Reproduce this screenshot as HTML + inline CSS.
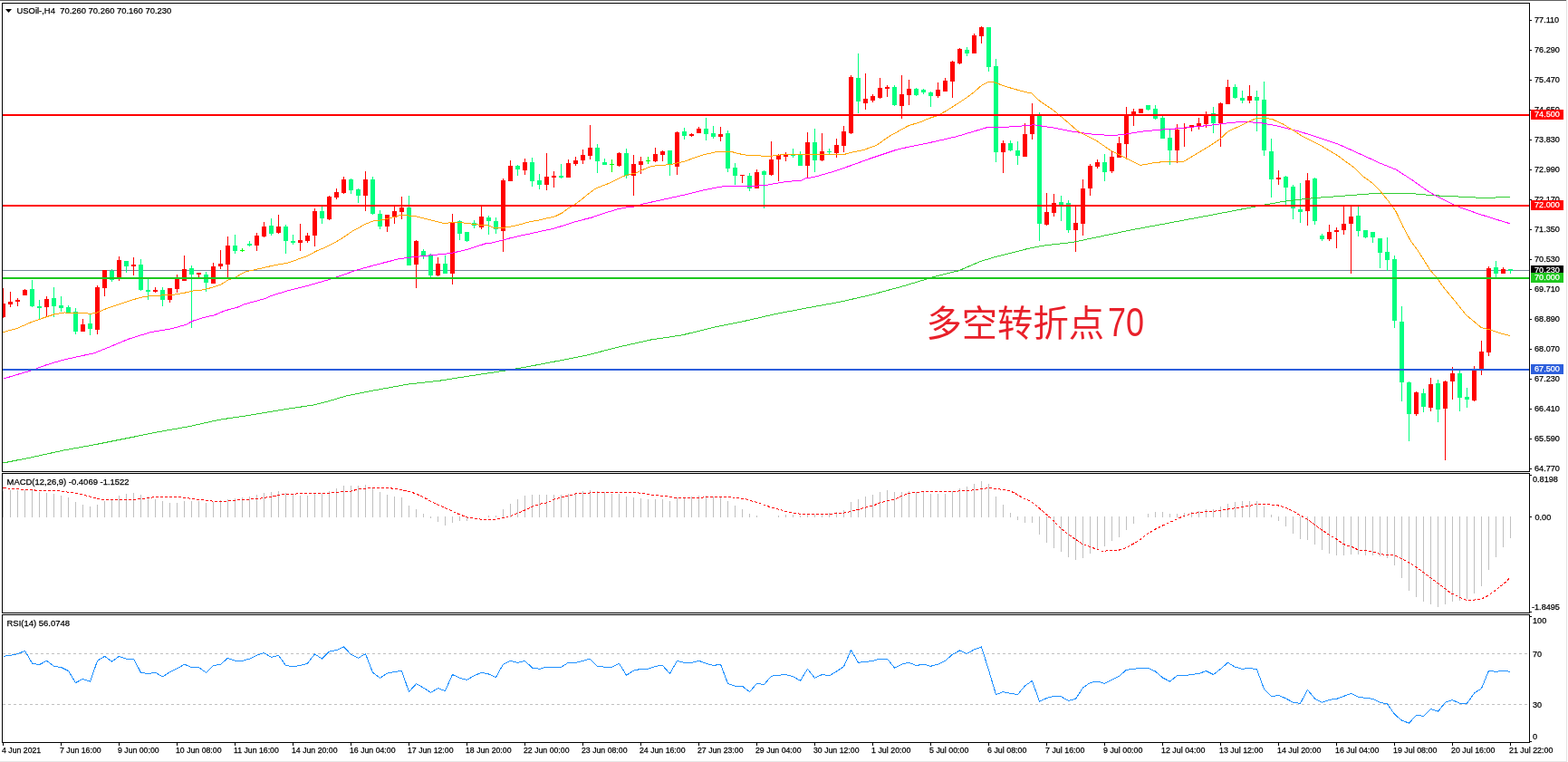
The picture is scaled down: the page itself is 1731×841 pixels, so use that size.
<!DOCTYPE html>
<html><head><meta charset="utf-8"><title>USOil H4</title>
<style>html,body{margin:0;padding:0;background:#fff;} svg{display:block;}
rect{shape-rendering:crispEdges;}</style></head>
<body><svg width="1731" height="841" viewBox="0 0 1731 841">
<rect x="0" y="0" width="1731" height="841" fill="#fff"/>
<rect x="0" y="0" width="1729" height="1" fill="#5f5f5f"/>
<rect x="1729" y="0" width="1" height="841" fill="#e3e3e3"/>
<rect x="0" y="840" width="1729" height="1" fill="#e6e6e6"/>
<defs><clipPath id="cm"><rect x="3" y="4" width="1685" height="516"/></clipPath><clipPath id="cd"><rect x="3" y="523" width="1685" height="153"/></clipPath><clipPath id="cr"><rect x="3" y="679" width="1685" height="140"/></clipPath></defs>
<g clip-path="url(#cm)">
<rect x="3" y="298" width="1685" height="1" fill="#778899"/>
<rect x="3" y="318" width="1" height="33" fill="#ff0000"/>
<rect x="1" y="335" width="5" height="15" fill="#ff0000"/>
<rect x="11" y="322" width="1" height="17" fill="#ff0000"/>
<rect x="9" y="333" width="5" height="3" fill="#ff0000"/>
<rect x="19" y="329" width="1" height="9" fill="#ff0000"/>
<rect x="17" y="331" width="5" height="2" fill="#ff0000"/>
<rect x="27" y="319" width="1" height="7" fill="#ff0000"/>
<rect x="25" y="320" width="5" height="6" fill="#ff0000"/>
<rect x="35" y="309" width="1" height="30" fill="#00ff7f"/>
<rect x="33" y="319" width="5" height="19" fill="#00ff7f"/>
<rect x="43" y="331" width="1" height="21" fill="#00ff7f"/>
<rect x="41" y="338" width="5" height="2" fill="#00ff7f"/>
<rect x="51" y="327" width="1" height="22" fill="#ff0000"/>
<rect x="49" y="330" width="5" height="9" fill="#ff0000"/>
<rect x="59" y="317" width="1" height="33" fill="#00ff7f"/>
<rect x="57" y="329" width="5" height="9" fill="#00ff7f"/>
<rect x="67" y="327" width="1" height="17" fill="#00ff7f"/>
<rect x="65" y="337" width="5" height="3" fill="#00ff7f"/>
<rect x="75" y="337" width="1" height="8" fill="#00ff7f"/>
<rect x="73" y="339" width="5" height="6" fill="#00ff7f"/>
<rect x="83" y="340" width="1" height="29" fill="#00ff7f"/>
<rect x="81" y="344" width="5" height="22" fill="#00ff7f"/>
<rect x="91" y="352" width="1" height="14" fill="#ff0000"/>
<rect x="89" y="358" width="5" height="8" fill="#ff0000"/>
<rect x="99" y="346" width="1" height="24" fill="#00ff7f"/>
<rect x="97" y="357" width="5" height="6" fill="#00ff7f"/>
<rect x="107" y="315" width="1" height="54" fill="#ff0000"/>
<rect x="105" y="317" width="5" height="47" fill="#ff0000"/>
<rect x="115" y="298" width="1" height="29" fill="#ff0000"/>
<rect x="113" y="298" width="5" height="20" fill="#ff0000"/>
<rect x="123" y="297" width="1" height="14" fill="#00ff7f"/>
<rect x="121" y="299" width="5" height="10" fill="#00ff7f"/>
<rect x="131" y="283" width="1" height="27" fill="#ff0000"/>
<rect x="129" y="287" width="5" height="19" fill="#ff0000"/>
<rect x="139" y="288" width="1" height="13" fill="#00ff7f"/>
<rect x="137" y="288" width="5" height="6" fill="#00ff7f"/>
<rect x="147" y="284" width="1" height="20" fill="#ff0000"/>
<rect x="145" y="292" width="5" height="2" fill="#ff0000"/>
<rect x="155" y="286" width="1" height="35" fill="#00ff7f"/>
<rect x="153" y="292" width="5" height="28" fill="#00ff7f"/>
<rect x="163" y="308" width="1" height="23" fill="#00ff7f"/>
<rect x="161" y="320" width="5" height="2" fill="#00ff7f"/>
<rect x="171" y="317" width="1" height="6" fill="#ff0000"/>
<rect x="169" y="320" width="5" height="2" fill="#ff0000"/>
<rect x="179" y="317" width="1" height="21" fill="#00ff7f"/>
<rect x="177" y="320" width="5" height="11" fill="#00ff7f"/>
<rect x="187" y="318" width="1" height="16" fill="#ff0000"/>
<rect x="185" y="318" width="5" height="13" fill="#ff0000"/>
<rect x="195" y="303" width="1" height="20" fill="#ff0000"/>
<rect x="193" y="308" width="5" height="11" fill="#ff0000"/>
<rect x="203" y="282" width="1" height="28" fill="#ff0000"/>
<rect x="201" y="297" width="5" height="13" fill="#ff0000"/>
<rect x="211" y="293" width="1" height="69" fill="#00ff7f"/>
<rect x="209" y="296" width="5" height="7" fill="#00ff7f"/>
<rect x="219" y="301" width="1" height="5" fill="#ff0000"/>
<rect x="217" y="301" width="5" height="2" fill="#ff0000"/>
<rect x="227" y="300" width="1" height="22" fill="#00ff7f"/>
<rect x="225" y="303" width="5" height="9" fill="#00ff7f"/>
<rect x="235" y="290" width="1" height="23" fill="#ff0000"/>
<rect x="233" y="294" width="5" height="19" fill="#ff0000"/>
<rect x="243" y="276" width="1" height="21" fill="#ff0000"/>
<rect x="241" y="291" width="5" height="3" fill="#ff0000"/>
<rect x="251" y="261" width="1" height="45" fill="#ff0000"/>
<rect x="249" y="271" width="5" height="21" fill="#ff0000"/>
<rect x="259" y="259" width="1" height="21" fill="#00ff7f"/>
<rect x="257" y="271" width="5" height="6" fill="#00ff7f"/>
<rect x="267" y="274" width="1" height="4" fill="#00ff00"/>
<rect x="265" y="276" width="5" height="1" fill="#00ff00"/>
<rect x="275" y="266" width="1" height="6" fill="#00ff7f"/>
<rect x="273" y="269" width="5" height="2" fill="#00ff7f"/>
<rect x="283" y="257" width="1" height="20" fill="#ff0000"/>
<rect x="281" y="260" width="5" height="11" fill="#ff0000"/>
<rect x="291" y="245" width="1" height="17" fill="#ff0000"/>
<rect x="289" y="250" width="5" height="11" fill="#ff0000"/>
<rect x="299" y="241" width="1" height="19" fill="#00ff7f"/>
<rect x="297" y="249" width="5" height="9" fill="#00ff7f"/>
<rect x="307" y="237" width="1" height="21" fill="#ff0000"/>
<rect x="305" y="250" width="5" height="7" fill="#ff0000"/>
<rect x="315" y="248" width="1" height="32" fill="#00ff7f"/>
<rect x="313" y="250" width="5" height="16" fill="#00ff7f"/>
<rect x="323" y="259" width="1" height="11" fill="#00ff7f"/>
<rect x="321" y="266" width="5" height="2" fill="#00ff7f"/>
<rect x="331" y="247" width="1" height="30" fill="#ff0000"/>
<rect x="329" y="265" width="5" height="3" fill="#ff0000"/>
<rect x="339" y="257" width="1" height="11" fill="#ff0000"/>
<rect x="337" y="260" width="5" height="6" fill="#ff0000"/>
<rect x="347" y="230" width="1" height="42" fill="#ff0000"/>
<rect x="345" y="233" width="5" height="27" fill="#ff0000"/>
<rect x="355" y="228" width="1" height="19" fill="#00ff7f"/>
<rect x="353" y="233" width="5" height="8" fill="#00ff7f"/>
<rect x="363" y="216" width="1" height="27" fill="#ff0000"/>
<rect x="361" y="217" width="5" height="25" fill="#ff0000"/>
<rect x="371" y="208" width="1" height="12" fill="#ff0000"/>
<rect x="369" y="212" width="5" height="6" fill="#ff0000"/>
<rect x="379" y="195" width="1" height="19" fill="#ff0000"/>
<rect x="377" y="198" width="5" height="15" fill="#ff0000"/>
<rect x="387" y="197" width="1" height="17" fill="#00ff7f"/>
<rect x="385" y="198" width="5" height="12" fill="#00ff7f"/>
<rect x="395" y="208" width="1" height="16" fill="#00ff7f"/>
<rect x="393" y="209" width="5" height="7" fill="#00ff7f"/>
<rect x="403" y="189" width="1" height="44" fill="#ff0000"/>
<rect x="401" y="198" width="5" height="18" fill="#ff0000"/>
<rect x="411" y="195" width="1" height="42" fill="#00ff7f"/>
<rect x="409" y="198" width="5" height="38" fill="#00ff7f"/>
<rect x="419" y="232" width="1" height="21" fill="#00ff7f"/>
<rect x="417" y="236" width="5" height="14" fill="#00ff7f"/>
<rect x="427" y="237" width="1" height="19" fill="#ff0000"/>
<rect x="425" y="237" width="5" height="13" fill="#ff0000"/>
<rect x="435" y="228" width="1" height="19" fill="#ff0000"/>
<rect x="433" y="233" width="5" height="7" fill="#ff0000"/>
<rect x="443" y="217" width="1" height="25" fill="#ff0000"/>
<rect x="441" y="229" width="5" height="5" fill="#ff0000"/>
<rect x="451" y="216" width="1" height="77" fill="#00ff7f"/>
<rect x="449" y="229" width="5" height="64" fill="#00ff7f"/>
<rect x="459" y="265" width="1" height="53" fill="#ff0000"/>
<rect x="457" y="266" width="5" height="26" fill="#ff0000"/>
<rect x="467" y="275" width="1" height="11" fill="#00ff7f"/>
<rect x="465" y="277" width="5" height="6" fill="#00ff7f"/>
<rect x="475" y="280" width="1" height="26" fill="#00ff7f"/>
<rect x="473" y="282" width="5" height="22" fill="#00ff7f"/>
<rect x="483" y="284" width="1" height="21" fill="#ff0000"/>
<rect x="481" y="291" width="5" height="13" fill="#ff0000"/>
<rect x="491" y="282" width="1" height="20" fill="#00ff7f"/>
<rect x="489" y="291" width="5" height="11" fill="#00ff7f"/>
<rect x="499" y="236" width="1" height="78" fill="#ff0000"/>
<rect x="497" y="246" width="5" height="56" fill="#ff0000"/>
<rect x="507" y="243" width="1" height="22" fill="#00ff7f"/>
<rect x="505" y="244" width="5" height="14" fill="#00ff7f"/>
<rect x="515" y="256" width="1" height="11" fill="#00ff7f"/>
<rect x="513" y="256" width="5" height="10" fill="#00ff7f"/>
<rect x="523" y="243" width="1" height="9" fill="#00ff7f"/>
<rect x="521" y="246" width="5" height="3" fill="#00ff7f"/>
<rect x="531" y="228" width="1" height="25" fill="#ff0000"/>
<rect x="529" y="239" width="5" height="12" fill="#ff0000"/>
<rect x="539" y="238" width="1" height="21" fill="#00ff7f"/>
<rect x="537" y="240" width="5" height="4" fill="#00ff7f"/>
<rect x="547" y="240" width="1" height="18" fill="#00ff7f"/>
<rect x="545" y="244" width="5" height="9" fill="#00ff7f"/>
<rect x="555" y="197" width="1" height="81" fill="#ff0000"/>
<rect x="553" y="199" width="5" height="56" fill="#ff0000"/>
<rect x="563" y="177" width="1" height="23" fill="#ff0000"/>
<rect x="561" y="183" width="5" height="17" fill="#ff0000"/>
<rect x="571" y="182" width="1" height="12" fill="#00ff7f"/>
<rect x="569" y="183" width="5" height="4" fill="#00ff7f"/>
<rect x="579" y="175" width="1" height="18" fill="#ff0000"/>
<rect x="577" y="179" width="5" height="9" fill="#ff0000"/>
<rect x="587" y="174" width="1" height="32" fill="#00ff7f"/>
<rect x="585" y="179" width="5" height="21" fill="#00ff7f"/>
<rect x="595" y="192" width="1" height="17" fill="#00ff7f"/>
<rect x="593" y="199" width="5" height="5" fill="#00ff7f"/>
<rect x="603" y="169" width="1" height="41" fill="#ff0000"/>
<rect x="601" y="195" width="5" height="9" fill="#ff0000"/>
<rect x="611" y="189" width="1" height="18" fill="#ff0000"/>
<rect x="609" y="194" width="5" height="2" fill="#ff0000"/>
<rect x="619" y="181" width="1" height="16" fill="#00ff7f"/>
<rect x="617" y="194" width="5" height="2" fill="#00ff7f"/>
<rect x="627" y="176" width="1" height="20" fill="#ff0000"/>
<rect x="625" y="180" width="5" height="16" fill="#ff0000"/>
<rect x="635" y="173" width="1" height="10" fill="#ff0000"/>
<rect x="633" y="177" width="5" height="4" fill="#ff0000"/>
<rect x="643" y="165" width="1" height="16" fill="#ff0000"/>
<rect x="641" y="171" width="5" height="6" fill="#ff0000"/>
<rect x="651" y="138" width="1" height="38" fill="#ff0000"/>
<rect x="649" y="163" width="5" height="9" fill="#ff0000"/>
<rect x="659" y="159" width="1" height="32" fill="#00ff7f"/>
<rect x="657" y="163" width="5" height="15" fill="#00ff7f"/>
<rect x="667" y="175" width="1" height="7" fill="#00ff7f"/>
<rect x="665" y="179" width="5" height="3" fill="#00ff7f"/>
<rect x="675" y="176" width="1" height="14" fill="#00ff00"/>
<rect x="673" y="181" width="5" height="1" fill="#00ff00"/>
<rect x="683" y="168" width="1" height="16" fill="#ff0000"/>
<rect x="681" y="169" width="5" height="14" fill="#ff0000"/>
<rect x="691" y="164" width="1" height="33" fill="#00ff7f"/>
<rect x="689" y="169" width="5" height="25" fill="#00ff7f"/>
<rect x="699" y="171" width="1" height="45" fill="#ff0000"/>
<rect x="697" y="181" width="5" height="13" fill="#ff0000"/>
<rect x="707" y="173" width="1" height="19" fill="#ff0000"/>
<rect x="705" y="178" width="5" height="4" fill="#ff0000"/>
<rect x="715" y="173" width="1" height="8" fill="#00ff00"/>
<rect x="713" y="177" width="5" height="1" fill="#00ff00"/>
<rect x="723" y="163" width="1" height="16" fill="#ff0000"/>
<rect x="721" y="170" width="5" height="8" fill="#ff0000"/>
<rect x="731" y="166" width="1" height="12" fill="#ff0000"/>
<rect x="729" y="167" width="5" height="4" fill="#ff0000"/>
<rect x="739" y="166" width="1" height="28" fill="#00ff7f"/>
<rect x="737" y="166" width="5" height="16" fill="#00ff7f"/>
<rect x="747" y="145" width="1" height="48" fill="#ff0000"/>
<rect x="745" y="146" width="5" height="38" fill="#ff0000"/>
<rect x="755" y="141" width="1" height="13" fill="#00ff7f"/>
<rect x="753" y="145" width="5" height="5" fill="#00ff7f"/>
<rect x="763" y="147" width="1" height="4" fill="#ff0000"/>
<rect x="761" y="148" width="5" height="2" fill="#ff0000"/>
<rect x="771" y="140" width="1" height="7" fill="#ff0000"/>
<rect x="769" y="142" width="5" height="5" fill="#ff0000"/>
<rect x="779" y="130" width="1" height="25" fill="#00ff7f"/>
<rect x="777" y="142" width="5" height="6" fill="#00ff7f"/>
<rect x="787" y="139" width="1" height="14" fill="#00ff7f"/>
<rect x="785" y="147" width="5" height="4" fill="#00ff7f"/>
<rect x="795" y="140" width="1" height="16" fill="#ff0000"/>
<rect x="793" y="148" width="5" height="3" fill="#ff0000"/>
<rect x="803" y="144" width="1" height="46" fill="#00ff7f"/>
<rect x="801" y="147" width="5" height="39" fill="#00ff7f"/>
<rect x="811" y="180" width="1" height="24" fill="#00ff7f"/>
<rect x="809" y="185" width="5" height="9" fill="#00ff7f"/>
<rect x="819" y="193" width="1" height="9" fill="#ff0000"/>
<rect x="817" y="193" width="5" height="1" fill="#ff0000"/>
<rect x="827" y="191" width="1" height="20" fill="#00ff7f"/>
<rect x="825" y="194" width="5" height="14" fill="#00ff7f"/>
<rect x="835" y="187" width="1" height="21" fill="#ff0000"/>
<rect x="833" y="190" width="5" height="18" fill="#ff0000"/>
<rect x="843" y="188" width="1" height="42" fill="#00ff7f"/>
<rect x="841" y="189" width="5" height="4" fill="#00ff7f"/>
<rect x="851" y="156" width="1" height="38" fill="#ff0000"/>
<rect x="849" y="176" width="5" height="17" fill="#ff0000"/>
<rect x="859" y="170" width="1" height="30" fill="#ff0000"/>
<rect x="857" y="171" width="5" height="5" fill="#ff0000"/>
<rect x="867" y="168" width="1" height="10" fill="#ff0000"/>
<rect x="865" y="170" width="5" height="3" fill="#ff0000"/>
<rect x="875" y="164" width="1" height="10" fill="#00ff7f"/>
<rect x="873" y="171" width="5" height="1" fill="#00ff7f"/>
<rect x="883" y="167" width="1" height="16" fill="#00ff7f"/>
<rect x="881" y="171" width="5" height="12" fill="#00ff7f"/>
<rect x="891" y="146" width="1" height="50" fill="#ff0000"/>
<rect x="889" y="157" width="5" height="26" fill="#ff0000"/>
<rect x="899" y="142" width="1" height="48" fill="#00ff7f"/>
<rect x="897" y="157" width="5" height="20" fill="#00ff7f"/>
<rect x="907" y="147" width="1" height="31" fill="#ff0000"/>
<rect x="905" y="167" width="5" height="10" fill="#ff0000"/>
<rect x="915" y="164" width="1" height="7" fill="#00ff7f"/>
<rect x="913" y="167" width="5" height="1" fill="#00ff7f"/>
<rect x="923" y="153" width="1" height="21" fill="#ff0000"/>
<rect x="921" y="160" width="5" height="9" fill="#ff0000"/>
<rect x="931" y="139" width="1" height="29" fill="#ff0000"/>
<rect x="929" y="145" width="5" height="16" fill="#ff0000"/>
<rect x="939" y="83" width="1" height="65" fill="#ff0000"/>
<rect x="937" y="85" width="5" height="62" fill="#ff0000"/>
<rect x="947" y="59" width="1" height="66" fill="#00ff7f"/>
<rect x="945" y="86" width="5" height="26" fill="#00ff7f"/>
<rect x="955" y="81" width="1" height="40" fill="#ff0000"/>
<rect x="953" y="109" width="5" height="5" fill="#ff0000"/>
<rect x="963" y="104" width="1" height="9" fill="#ff0000"/>
<rect x="961" y="106" width="5" height="5" fill="#ff0000"/>
<rect x="971" y="86" width="1" height="23" fill="#ff0000"/>
<rect x="969" y="97" width="5" height="11" fill="#ff0000"/>
<rect x="979" y="94" width="1" height="13" fill="#ff0000"/>
<rect x="977" y="96" width="5" height="2" fill="#ff0000"/>
<rect x="987" y="94" width="1" height="23" fill="#00ff7f"/>
<rect x="985" y="96" width="5" height="20" fill="#00ff7f"/>
<rect x="995" y="83" width="1" height="48" fill="#ff0000"/>
<rect x="993" y="104" width="5" height="13" fill="#ff0000"/>
<rect x="1003" y="88" width="1" height="28" fill="#ff0000"/>
<rect x="1001" y="98" width="5" height="7" fill="#ff0000"/>
<rect x="1011" y="97" width="1" height="9" fill="#00ff7f"/>
<rect x="1009" y="98" width="5" height="7" fill="#00ff7f"/>
<rect x="1019" y="98" width="1" height="6" fill="#00ff7f"/>
<rect x="1017" y="99" width="5" height="3" fill="#00ff7f"/>
<rect x="1027" y="101" width="1" height="17" fill="#00ff7f"/>
<rect x="1025" y="102" width="5" height="4" fill="#00ff7f"/>
<rect x="1035" y="91" width="1" height="17" fill="#ff0000"/>
<rect x="1033" y="99" width="5" height="7" fill="#ff0000"/>
<rect x="1043" y="86" width="1" height="15" fill="#ff0000"/>
<rect x="1041" y="89" width="5" height="12" fill="#ff0000"/>
<rect x="1051" y="67" width="1" height="41" fill="#ff0000"/>
<rect x="1049" y="68" width="5" height="22" fill="#ff0000"/>
<rect x="1059" y="53" width="1" height="18" fill="#ff0000"/>
<rect x="1057" y="54" width="5" height="16" fill="#ff0000"/>
<rect x="1067" y="52" width="1" height="10" fill="#00ff7f"/>
<rect x="1065" y="55" width="5" height="4" fill="#00ff7f"/>
<rect x="1075" y="37" width="1" height="22" fill="#ff0000"/>
<rect x="1073" y="39" width="5" height="20" fill="#ff0000"/>
<rect x="1083" y="29" width="1" height="19" fill="#ff0000"/>
<rect x="1081" y="30" width="5" height="10" fill="#ff0000"/>
<rect x="1091" y="30" width="1" height="49" fill="#00ff7f"/>
<rect x="1089" y="30" width="5" height="44" fill="#00ff7f"/>
<rect x="1099" y="65" width="1" height="114" fill="#00ff7f"/>
<rect x="1097" y="73" width="5" height="95" fill="#00ff7f"/>
<rect x="1107" y="155" width="1" height="36" fill="#ff0000"/>
<rect x="1105" y="158" width="5" height="10" fill="#ff0000"/>
<rect x="1115" y="155" width="1" height="12" fill="#00ff7f"/>
<rect x="1113" y="158" width="5" height="8" fill="#00ff7f"/>
<rect x="1123" y="156" width="1" height="26" fill="#00ff7f"/>
<rect x="1121" y="166" width="5" height="6" fill="#00ff7f"/>
<rect x="1131" y="136" width="1" height="37" fill="#ff0000"/>
<rect x="1129" y="148" width="5" height="25" fill="#ff0000"/>
<rect x="1139" y="114" width="1" height="40" fill="#ff0000"/>
<rect x="1137" y="127" width="5" height="21" fill="#ff0000"/>
<rect x="1147" y="124" width="1" height="142" fill="#00ff7f"/>
<rect x="1145" y="128" width="5" height="119" fill="#00ff7f"/>
<rect x="1155" y="213" width="1" height="36" fill="#ff0000"/>
<rect x="1153" y="234" width="5" height="14" fill="#ff0000"/>
<rect x="1163" y="214" width="1" height="25" fill="#ff0000"/>
<rect x="1161" y="224" width="5" height="11" fill="#ff0000"/>
<rect x="1171" y="216" width="1" height="28" fill="#00ff7f"/>
<rect x="1169" y="223" width="5" height="3" fill="#00ff7f"/>
<rect x="1179" y="221" width="1" height="36" fill="#00ff7f"/>
<rect x="1177" y="224" width="5" height="30" fill="#00ff7f"/>
<rect x="1187" y="227" width="1" height="51" fill="#ff0000"/>
<rect x="1185" y="246" width="5" height="8" fill="#ff0000"/>
<rect x="1195" y="198" width="1" height="62" fill="#ff0000"/>
<rect x="1193" y="208" width="5" height="39" fill="#ff0000"/>
<rect x="1203" y="181" width="1" height="35" fill="#ff0000"/>
<rect x="1201" y="183" width="5" height="25" fill="#ff0000"/>
<rect x="1211" y="176" width="1" height="10" fill="#ff0000"/>
<rect x="1209" y="179" width="5" height="5" fill="#ff0000"/>
<rect x="1219" y="170" width="1" height="30" fill="#00ff7f"/>
<rect x="1217" y="179" width="5" height="11" fill="#00ff7f"/>
<rect x="1227" y="167" width="1" height="24" fill="#ff0000"/>
<rect x="1225" y="173" width="5" height="16" fill="#ff0000"/>
<rect x="1235" y="151" width="1" height="23" fill="#ff0000"/>
<rect x="1233" y="158" width="5" height="16" fill="#ff0000"/>
<rect x="1243" y="118" width="1" height="57" fill="#ff0000"/>
<rect x="1241" y="127" width="5" height="32" fill="#ff0000"/>
<rect x="1251" y="120" width="1" height="19" fill="#ff0000"/>
<rect x="1249" y="123" width="5" height="3" fill="#ff0000"/>
<rect x="1259" y="120" width="1" height="5" fill="#ff0000"/>
<rect x="1257" y="120" width="5" height="5" fill="#ff0000"/>
<rect x="1267" y="116" width="1" height="6" fill="#00ff7f"/>
<rect x="1265" y="116" width="5" height="5" fill="#00ff7f"/>
<rect x="1275" y="116" width="1" height="16" fill="#00ff7f"/>
<rect x="1273" y="120" width="5" height="11" fill="#00ff7f"/>
<rect x="1283" y="128" width="1" height="25" fill="#00ff7f"/>
<rect x="1281" y="130" width="5" height="23" fill="#00ff7f"/>
<rect x="1291" y="143" width="1" height="39" fill="#00ff7f"/>
<rect x="1289" y="152" width="5" height="14" fill="#00ff7f"/>
<rect x="1299" y="137" width="1" height="43" fill="#ff0000"/>
<rect x="1297" y="143" width="5" height="23" fill="#ff0000"/>
<rect x="1307" y="136" width="1" height="26" fill="#ff0000"/>
<rect x="1305" y="141" width="5" height="1" fill="#ff0000"/>
<rect x="1315" y="138" width="1" height="7" fill="#ff0000"/>
<rect x="1313" y="138" width="5" height="2" fill="#ff0000"/>
<rect x="1323" y="130" width="1" height="13" fill="#ff0000"/>
<rect x="1321" y="136" width="5" height="3" fill="#ff0000"/>
<rect x="1331" y="123" width="1" height="18" fill="#ff0000"/>
<rect x="1329" y="126" width="5" height="11" fill="#ff0000"/>
<rect x="1339" y="118" width="1" height="29" fill="#00ff7f"/>
<rect x="1337" y="125" width="5" height="11" fill="#00ff7f"/>
<rect x="1347" y="113" width="1" height="49" fill="#ff0000"/>
<rect x="1345" y="114" width="5" height="22" fill="#ff0000"/>
<rect x="1355" y="88" width="1" height="27" fill="#ff0000"/>
<rect x="1353" y="96" width="5" height="19" fill="#ff0000"/>
<rect x="1363" y="93" width="1" height="16" fill="#00ff7f"/>
<rect x="1361" y="96" width="5" height="12" fill="#00ff7f"/>
<rect x="1371" y="100" width="1" height="14" fill="#00ff7f"/>
<rect x="1369" y="108" width="5" height="3" fill="#00ff7f"/>
<rect x="1379" y="94" width="1" height="20" fill="#ff0000"/>
<rect x="1377" y="106" width="5" height="5" fill="#ff0000"/>
<rect x="1387" y="100" width="1" height="45" fill="#00ff7f"/>
<rect x="1385" y="107" width="5" height="4" fill="#00ff7f"/>
<rect x="1395" y="90" width="1" height="82" fill="#00ff7f"/>
<rect x="1393" y="110" width="5" height="56" fill="#00ff7f"/>
<rect x="1403" y="153" width="1" height="65" fill="#00ff7f"/>
<rect x="1401" y="167" width="5" height="31" fill="#00ff7f"/>
<rect x="1411" y="188" width="1" height="16" fill="#ff0000"/>
<rect x="1409" y="196" width="5" height="2" fill="#ff0000"/>
<rect x="1419" y="194" width="1" height="32" fill="#00ff7f"/>
<rect x="1417" y="195" width="5" height="12" fill="#00ff7f"/>
<rect x="1427" y="204" width="1" height="38" fill="#00ff7f"/>
<rect x="1425" y="206" width="5" height="24" fill="#00ff7f"/>
<rect x="1435" y="202" width="1" height="44" fill="#00ff7f"/>
<rect x="1433" y="231" width="5" height="3" fill="#00ff7f"/>
<rect x="1443" y="191" width="1" height="58" fill="#ff0000"/>
<rect x="1441" y="199" width="5" height="34" fill="#ff0000"/>
<rect x="1451" y="196" width="1" height="52" fill="#00ff7f"/>
<rect x="1449" y="197" width="5" height="47" fill="#00ff7f"/>
<rect x="1459" y="258" width="1" height="8" fill="#00ff7f"/>
<rect x="1457" y="260" width="5" height="4" fill="#00ff7f"/>
<rect x="1467" y="248" width="1" height="18" fill="#ff0000"/>
<rect x="1465" y="256" width="5" height="8" fill="#ff0000"/>
<rect x="1475" y="251" width="1" height="23" fill="#ff0000"/>
<rect x="1473" y="254" width="5" height="2" fill="#ff0000"/>
<rect x="1483" y="227" width="1" height="32" fill="#ff0000"/>
<rect x="1481" y="247" width="5" height="7" fill="#ff0000"/>
<rect x="1491" y="227" width="1" height="75" fill="#ff0000"/>
<rect x="1489" y="239" width="5" height="8" fill="#ff0000"/>
<rect x="1499" y="228" width="1" height="33" fill="#00ff7f"/>
<rect x="1497" y="238" width="5" height="17" fill="#00ff7f"/>
<rect x="1507" y="254" width="1" height="9" fill="#00ff7f"/>
<rect x="1505" y="254" width="5" height="8" fill="#00ff7f"/>
<rect x="1515" y="256" width="1" height="12" fill="#00ff7f"/>
<rect x="1513" y="256" width="5" height="6" fill="#00ff7f"/>
<rect x="1523" y="263" width="1" height="33" fill="#00ff7f"/>
<rect x="1521" y="263" width="5" height="16" fill="#00ff7f"/>
<rect x="1531" y="262" width="1" height="37" fill="#00ff7f"/>
<rect x="1529" y="278" width="5" height="9" fill="#00ff7f"/>
<rect x="1539" y="282" width="1" height="80" fill="#00ff7f"/>
<rect x="1537" y="286" width="5" height="68" fill="#00ff7f"/>
<rect x="1547" y="338" width="1" height="105" fill="#00ff7f"/>
<rect x="1545" y="355" width="5" height="67" fill="#00ff7f"/>
<rect x="1555" y="421" width="1" height="66" fill="#00ff7f"/>
<rect x="1553" y="422" width="5" height="35" fill="#00ff7f"/>
<rect x="1563" y="432" width="1" height="27" fill="#ff0000"/>
<rect x="1561" y="433" width="5" height="24" fill="#ff0000"/>
<rect x="1571" y="429" width="1" height="26" fill="#00ff7f"/>
<rect x="1569" y="434" width="5" height="15" fill="#00ff7f"/>
<rect x="1579" y="417" width="1" height="37" fill="#ff0000"/>
<rect x="1577" y="424" width="5" height="26" fill="#ff0000"/>
<rect x="1587" y="419" width="1" height="47" fill="#00ff7f"/>
<rect x="1585" y="423" width="5" height="29" fill="#00ff7f"/>
<rect x="1595" y="420" width="1" height="88" fill="#ff0000"/>
<rect x="1593" y="421" width="5" height="30" fill="#ff0000"/>
<rect x="1603" y="405" width="1" height="36" fill="#ff0000"/>
<rect x="1601" y="412" width="5" height="9" fill="#ff0000"/>
<rect x="1611" y="409" width="1" height="45" fill="#00ff7f"/>
<rect x="1609" y="412" width="5" height="27" fill="#00ff7f"/>
<rect x="1619" y="428" width="1" height="22" fill="#00ff7f"/>
<rect x="1617" y="438" width="5" height="3" fill="#00ff7f"/>
<rect x="1627" y="404" width="1" height="39" fill="#ff0000"/>
<rect x="1625" y="408" width="5" height="34" fill="#ff0000"/>
<rect x="1635" y="376" width="1" height="38" fill="#ff0000"/>
<rect x="1633" y="388" width="5" height="20" fill="#ff0000"/>
<rect x="1643" y="294" width="1" height="99" fill="#ff0000"/>
<rect x="1641" y="296" width="5" height="93" fill="#ff0000"/>
<rect x="1651" y="288" width="1" height="18" fill="#00ff7f"/>
<rect x="1649" y="295" width="5" height="7" fill="#00ff7f"/>
<rect x="1659" y="295" width="1" height="7" fill="#ff0000"/>
<rect x="1657" y="297" width="5" height="5" fill="#ff0000"/>
<rect x="1667" y="297" width="1" height="5" fill="#00ff7f"/>
<rect x="1665" y="297" width="5" height="2" fill="#00ff7f"/>
<polyline points="3.5,511.0 34.7,504.8 69.3,497.2 104.0,490.9 138.6,484.0 173.3,477.0 208.0,470.8 242.6,463.2 277.3,458.0 312.0,452.1 346.6,446.9 364.0,442.4 381.3,437.2 416.0,430.3 450.6,424.0 485.3,420.2 520.0,414.7 554.6,409.5 580.0,405.2 614.7,398.6 649.3,391.7 684.0,382.7 718.6,375.0 753.3,369.8 788.0,361.2 822.6,354.2 857.3,346.3 892.0,339.7 926.6,333.4 961.3,325.5 996.0,316.1 1030.6,305.7 1058.3,298.8 1082.6,288.4 1100.0,283.2 1134.6,274.5 1151.9,271.1 1184.2,267.4 1248.5,253.9 1320.0,240.6 1380.0,229.2 1397.9,225.7 1415.8,222.6 1433.7,220.3 1451.6,218.5 1469.5,217.2 1487.4,215.8 1505.4,214.4 1523.3,213.1 1541.2,213.1 1559.1,213.7 1577.0,215.3 1594.9,216.4 1612.8,217.1 1630.7,218.1 1648.6,218.1 1663.0,217.6 1666.5,217.2" fill="none" stroke="#32cd32" stroke-width="1" shape-rendering="crispEdges"/>
<polyline points="3.5,418.1 34.7,408.8 52.0,402.5 69.3,397.3 104.0,389.7 121.3,382.8 141.5,374.3 166.5,366.6 187.9,363.0 192.0,362.0 204.8,358.5 213.4,354.0 224.1,350.7 237.0,347.7 247.7,343.0 261.6,339.4 269.1,336.0 279.8,333.0 292.0,329.8 300.0,326.2 319.6,320.3 339.2,315.4 358.8,309.9 372.6,305.6 392.0,298.7 403.0,295.5 422.0,290.4 441.0,285.6 460.0,283.3 479.0,281.4 498.2,279.5 517.2,275.0 536.2,268.8 540.0,268.7 551.9,265.7 563.8,262.7 575.7,259.8 587.6,257.4 599.5,254.7 611.3,252.3 623.2,248.5 635.1,244.7 647.0,241.6 653.0,240.2 658.9,238.0 670.8,234.2 682.7,230.6 694.6,228.3 700.5,228.0 708.8,225.3 720.0,222.9 753.3,215.6 776.0,209.9 798.3,205.7 830.0,205.5 846.0,204.4 855.7,202.5 869.6,200.3 884.6,199.3 888.9,197.1 899.4,195.2 919.7,189.5 939.9,182.5 960.0,175.2 992.1,164.5 1024.2,158.0 1056.4,150.6 1088.5,141.0 1109.9,140.3 1131.3,138.8 1141.4,137.8 1162.8,141.0 1184.2,145.3 1205.7,148.1 1227.1,149.6 1239.9,148.5 1259.2,145.3 1280.6,143.2 1302.0,141.7 1312.0,140.6 1335.8,138.3 1359.6,135.3 1371.5,134.5 1389.3,135.3 1407.1,138.3 1419.0,141.2 1432.0,144.4 1450.4,150.0 1476.1,158.6 1495.1,167.1 1514.1,175.7 1523.3,180.0 1541.2,187.2 1559.1,198.8 1568.0,205.1 1577.0,211.3 1586.0,216.7 1594.9,220.8 1603.9,225.7 1612.8,229.2 1630.7,235.5 1648.6,241.2 1666.5,246.6" fill="none" stroke="#ff00ff" stroke-width="1" shape-rendering="crispEdges"/>
<polyline points="3.4,366.6 19.0,362.4 35.7,355.0 59.5,347.0 71.3,345.0 95.0,345.4 98.7,346.6 107.0,345.0 119.0,340.0 142.7,332.0 154.6,328.5 166.5,326.4 178.4,326.0 190.0,325.5 202.7,323.4 213.4,321.0 223.0,320.0 231.6,318.0 243.4,314.3 252.0,309.0 260.5,305.7 270.0,300.3 280.9,297.7 290.1,295.8 300.0,293.4 309.8,291.5 317.6,290.3 329.4,286.0 339.2,282.5 349.0,277.2 358.8,273.2 368.6,268.3 378.5,262.4 388.3,255.6 403.0,247.5 412.5,243.7 422.0,242.8 435.4,239.5 443.0,237.0 450.6,238.0 460.0,239.0 475.3,242.8 490.6,246.6 502.0,245.0 517.2,246.6 532.4,248.5 540.0,249.1 545.9,252.0 551.9,251.8 559.0,250.9 567.3,249.4 575.7,247.3 585.2,244.7 594.7,243.1 601.8,241.3 609.0,239.9 613.7,238.4 620.9,234.8 628.0,229.5 635.1,225.3 642.3,219.9 649.4,214.0 657.7,208.0 666.0,204.7 674.4,201.5 680.3,198.5 688.6,194.4 694.6,192.4 701.7,191.2 708.8,187.8 716.0,184.5 720.0,183.3 725.8,182.8 740.0,181.6 754.3,178.5 776.0,171.0 792.3,167.3 806.4,167.1 813.9,169.3 824.6,171.4 839.6,172.0 851.4,172.5 855.7,171.4 870.7,170.3 900.0,170.1 929.8,171.0 939.9,168.3 954.0,165.3 968.0,160.2 981.4,150.6 1002.8,138.8 1016.3,134.6 1025.4,130.7 1033.3,128.1 1038.5,125.7 1043.7,122.9 1051.6,117.9 1059.4,112.9 1067.3,107.7 1073.8,102.8 1079.1,98.3 1084.3,93.7 1089.5,91.1 1096.1,90.4 1100.0,91.7 1109.9,95.4 1127.0,100.3 1138.8,103.0 1148.4,112.0 1160.0,119.6 1167.1,125.0 1190.7,145.3 1209.9,155.0 1227.1,166.7 1244.2,175.3 1259.2,182.4 1274.2,179.6 1291.3,178.0 1306.3,178.5 1323.9,168.0 1335.8,160.9 1346.5,153.7 1356.0,144.8 1365.5,140.6 1376.2,135.3 1386.9,130.5 1397.6,130.5 1404.7,131.7 1416.6,137.0 1426.1,143.0 1437.1,150.0 1457.1,160.0 1476.1,171.3 1495.1,185.2 1505.4,195.2 1514.3,201.5 1523.3,210.4 1532.2,221.2 1541.2,233.7 1548.8,250.0 1557.1,265.5 1566.6,278.5 1578.5,297.6 1585.6,305.9 1595.1,319.0 1607.0,333.2 1618.7,347.8 1635.3,361.5 1644.9,363.9 1659.1,368.6 1666.9,370.4" fill="none" stroke="#ffa500" stroke-width="1" shape-rendering="crispEdges"/>
<rect x="3" y="126" width="1685" height="2" fill="#ff0000"/>
<rect x="3" y="226" width="1685" height="2" fill="#ff0000"/>
<rect x="3" y="306" width="1685" height="2" fill="#1ec81e"/>
<rect x="3" y="407" width="1685" height="2" fill="#2d5fdc"/>
</g>
<text x="1022.5" y="371" font-family="'Liberation Sans', 'Noto Sans CJK SC', sans-serif" font-size="39.3" fill="#e8202a">多空转折点</text>
<text x="1223" y="371" font-family="'Liberation Sans', 'Noto Sans CJK SC', sans-serif" font-size="44" fill="#e8202a" textLength="40" lengthAdjust="spacingAndGlyphs">70</text>
<path d="M6 10 L13 10 L9.5 14 Z" fill="#000"/>
<text x="18.5" y="15" font-family='"Liberation Sans", sans-serif' font-size="9.85" fill="#000" stroke="#000" stroke-width="0.25" textLength="170.8" lengthAdjust="spacingAndGlyphs" xml:space="preserve">USOil-,H4  70.260 70.260 70.160 70.230</text>
<g clip-path="url(#cd)">
<rect x="3" y="542" width="1" height="29" fill="#c0c0c0"/>
<rect x="11" y="541" width="1" height="30" fill="#c0c0c0"/>
<rect x="19" y="541" width="1" height="30" fill="#c0c0c0"/>
<rect x="27" y="541" width="1" height="30" fill="#c0c0c0"/>
<rect x="35" y="541" width="1" height="30" fill="#c0c0c0"/>
<rect x="43" y="543" width="1" height="28" fill="#c0c0c0"/>
<rect x="51" y="544" width="1" height="27" fill="#c0c0c0"/>
<rect x="59" y="545" width="1" height="26" fill="#c0c0c0"/>
<rect x="67" y="547" width="1" height="24" fill="#c0c0c0"/>
<rect x="75" y="549" width="1" height="22" fill="#c0c0c0"/>
<rect x="83" y="554" width="1" height="17" fill="#c0c0c0"/>
<rect x="91" y="557" width="1" height="14" fill="#c0c0c0"/>
<rect x="99" y="559" width="1" height="12" fill="#c0c0c0"/>
<rect x="107" y="557" width="1" height="14" fill="#c0c0c0"/>
<rect x="115" y="553" width="1" height="18" fill="#c0c0c0"/>
<rect x="123" y="552" width="1" height="19" fill="#c0c0c0"/>
<rect x="131" y="547" width="1" height="24" fill="#c0c0c0"/>
<rect x="139" y="545" width="1" height="26" fill="#c0c0c0"/>
<rect x="147" y="544" width="1" height="27" fill="#c0c0c0"/>
<rect x="155" y="546" width="1" height="25" fill="#c0c0c0"/>
<rect x="163" y="548" width="1" height="23" fill="#c0c0c0"/>
<rect x="171" y="551" width="1" height="20" fill="#c0c0c0"/>
<rect x="179" y="553" width="1" height="18" fill="#c0c0c0"/>
<rect x="187" y="555" width="1" height="16" fill="#c0c0c0"/>
<rect x="195" y="555" width="1" height="16" fill="#c0c0c0"/>
<rect x="203" y="553" width="1" height="18" fill="#c0c0c0"/>
<rect x="211" y="553" width="1" height="18" fill="#c0c0c0"/>
<rect x="219" y="553" width="1" height="18" fill="#c0c0c0"/>
<rect x="227" y="555" width="1" height="16" fill="#c0c0c0"/>
<rect x="235" y="554" width="1" height="17" fill="#c0c0c0"/>
<rect x="243" y="552" width="1" height="19" fill="#c0c0c0"/>
<rect x="251" y="551" width="1" height="20" fill="#c0c0c0"/>
<rect x="259" y="550" width="1" height="21" fill="#c0c0c0"/>
<rect x="267" y="549" width="1" height="22" fill="#c0c0c0"/>
<rect x="275" y="548" width="1" height="23" fill="#c0c0c0"/>
<rect x="283" y="546" width="1" height="25" fill="#c0c0c0"/>
<rect x="291" y="544" width="1" height="27" fill="#c0c0c0"/>
<rect x="299" y="543" width="1" height="28" fill="#c0c0c0"/>
<rect x="307" y="542" width="1" height="29" fill="#c0c0c0"/>
<rect x="315" y="544" width="1" height="27" fill="#c0c0c0"/>
<rect x="323" y="546" width="1" height="25" fill="#c0c0c0"/>
<rect x="331" y="547" width="1" height="24" fill="#c0c0c0"/>
<rect x="339" y="547" width="1" height="24" fill="#c0c0c0"/>
<rect x="347" y="545" width="1" height="26" fill="#c0c0c0"/>
<rect x="355" y="545" width="1" height="26" fill="#c0c0c0"/>
<rect x="363" y="542" width="1" height="29" fill="#c0c0c0"/>
<rect x="371" y="539" width="1" height="32" fill="#c0c0c0"/>
<rect x="379" y="536" width="1" height="35" fill="#c0c0c0"/>
<rect x="387" y="536" width="1" height="35" fill="#c0c0c0"/>
<rect x="395" y="536" width="1" height="35" fill="#c0c0c0"/>
<rect x="403" y="535" width="1" height="36" fill="#c0c0c0"/>
<rect x="411" y="538" width="1" height="33" fill="#c0c0c0"/>
<rect x="419" y="543" width="1" height="28" fill="#c0c0c0"/>
<rect x="427" y="546" width="1" height="25" fill="#c0c0c0"/>
<rect x="435" y="548" width="1" height="23" fill="#c0c0c0"/>
<rect x="443" y="549" width="1" height="22" fill="#c0c0c0"/>
<rect x="451" y="558" width="1" height="13" fill="#c0c0c0"/>
<rect x="459" y="562" width="1" height="9" fill="#c0c0c0"/>
<rect x="467" y="567" width="1" height="4" fill="#c0c0c0"/>
<rect x="475" y="570" width="1" height="2" fill="#c0c0c0"/>
<rect x="483" y="570" width="1" height="6" fill="#c0c0c0"/>
<rect x="491" y="570" width="1" height="10" fill="#c0c0c0"/>
<rect x="499" y="570" width="1" height="7" fill="#c0c0c0"/>
<rect x="507" y="570" width="1" height="5" fill="#c0c0c0"/>
<rect x="515" y="570" width="1" height="5" fill="#c0c0c0"/>
<rect x="539" y="569" width="1" height="2" fill="#c0c0c0"/>
<rect x="547" y="569" width="1" height="2" fill="#c0c0c0"/>
<rect x="555" y="562" width="1" height="9" fill="#c0c0c0"/>
<rect x="563" y="556" width="1" height="15" fill="#c0c0c0"/>
<rect x="571" y="551" width="1" height="20" fill="#c0c0c0"/>
<rect x="579" y="547" width="1" height="24" fill="#c0c0c0"/>
<rect x="587" y="546" width="1" height="25" fill="#c0c0c0"/>
<rect x="595" y="546" width="1" height="25" fill="#c0c0c0"/>
<rect x="603" y="546" width="1" height="25" fill="#c0c0c0"/>
<rect x="611" y="546" width="1" height="25" fill="#c0c0c0"/>
<rect x="619" y="546" width="1" height="25" fill="#c0c0c0"/>
<rect x="627" y="545" width="1" height="26" fill="#c0c0c0"/>
<rect x="635" y="544" width="1" height="27" fill="#c0c0c0"/>
<rect x="643" y="542" width="1" height="29" fill="#c0c0c0"/>
<rect x="651" y="541" width="1" height="30" fill="#c0c0c0"/>
<rect x="659" y="542" width="1" height="29" fill="#c0c0c0"/>
<rect x="667" y="543" width="1" height="28" fill="#c0c0c0"/>
<rect x="675" y="545" width="1" height="26" fill="#c0c0c0"/>
<rect x="683" y="545" width="1" height="26" fill="#c0c0c0"/>
<rect x="691" y="548" width="1" height="23" fill="#c0c0c0"/>
<rect x="699" y="549" width="1" height="22" fill="#c0c0c0"/>
<rect x="707" y="550" width="1" height="21" fill="#c0c0c0"/>
<rect x="715" y="551" width="1" height="20" fill="#c0c0c0"/>
<rect x="723" y="551" width="1" height="20" fill="#c0c0c0"/>
<rect x="731" y="551" width="1" height="20" fill="#c0c0c0"/>
<rect x="739" y="553" width="1" height="18" fill="#c0c0c0"/>
<rect x="747" y="549" width="1" height="22" fill="#c0c0c0"/>
<rect x="755" y="549" width="1" height="22" fill="#c0c0c0"/>
<rect x="763" y="548" width="1" height="23" fill="#c0c0c0"/>
<rect x="771" y="547" width="1" height="24" fill="#c0c0c0"/>
<rect x="779" y="547" width="1" height="24" fill="#c0c0c0"/>
<rect x="787" y="548" width="1" height="23" fill="#c0c0c0"/>
<rect x="795" y="548" width="1" height="23" fill="#c0c0c0"/>
<rect x="803" y="553" width="1" height="18" fill="#c0c0c0"/>
<rect x="811" y="558" width="1" height="13" fill="#c0c0c0"/>
<rect x="819" y="562" width="1" height="9" fill="#c0c0c0"/>
<rect x="827" y="567" width="1" height="4" fill="#c0c0c0"/>
<rect x="835" y="569" width="1" height="2" fill="#c0c0c0"/>
<rect x="859" y="569" width="1" height="2" fill="#c0c0c0"/>
<rect x="867" y="568" width="1" height="3" fill="#c0c0c0"/>
<rect x="875" y="568" width="1" height="3" fill="#c0c0c0"/>
<rect x="883" y="569" width="1" height="2" fill="#c0c0c0"/>
<rect x="891" y="568" width="1" height="3" fill="#c0c0c0"/>
<rect x="899" y="568" width="1" height="3" fill="#c0c0c0"/>
<rect x="907" y="567" width="1" height="4" fill="#c0c0c0"/>
<rect x="915" y="566" width="1" height="5" fill="#c0c0c0"/>
<rect x="923" y="565" width="1" height="6" fill="#c0c0c0"/>
<rect x="931" y="563" width="1" height="8" fill="#c0c0c0"/>
<rect x="939" y="554" width="1" height="17" fill="#c0c0c0"/>
<rect x="947" y="551" width="1" height="20" fill="#c0c0c0"/>
<rect x="955" y="548" width="1" height="23" fill="#c0c0c0"/>
<rect x="963" y="546" width="1" height="25" fill="#c0c0c0"/>
<rect x="971" y="543" width="1" height="28" fill="#c0c0c0"/>
<rect x="979" y="541" width="1" height="30" fill="#c0c0c0"/>
<rect x="987" y="543" width="1" height="28" fill="#c0c0c0"/>
<rect x="995" y="543" width="1" height="28" fill="#c0c0c0"/>
<rect x="1003" y="542" width="1" height="29" fill="#c0c0c0"/>
<rect x="1011" y="543" width="1" height="28" fill="#c0c0c0"/>
<rect x="1019" y="543" width="1" height="28" fill="#c0c0c0"/>
<rect x="1027" y="545" width="1" height="26" fill="#c0c0c0"/>
<rect x="1035" y="545" width="1" height="26" fill="#c0c0c0"/>
<rect x="1043" y="545" width="1" height="26" fill="#c0c0c0"/>
<rect x="1051" y="542" width="1" height="29" fill="#c0c0c0"/>
<rect x="1059" y="539" width="1" height="32" fill="#c0c0c0"/>
<rect x="1067" y="537" width="1" height="34" fill="#c0c0c0"/>
<rect x="1075" y="534" width="1" height="37" fill="#c0c0c0"/>
<rect x="1083" y="531" width="1" height="40" fill="#c0c0c0"/>
<rect x="1091" y="534" width="1" height="37" fill="#c0c0c0"/>
<rect x="1099" y="548" width="1" height="23" fill="#c0c0c0"/>
<rect x="1107" y="557" width="1" height="14" fill="#c0c0c0"/>
<rect x="1115" y="566" width="1" height="5" fill="#c0c0c0"/>
<rect x="1123" y="570" width="1" height="4" fill="#c0c0c0"/>
<rect x="1131" y="570" width="1" height="7" fill="#c0c0c0"/>
<rect x="1139" y="570" width="1" height="7" fill="#c0c0c0"/>
<rect x="1147" y="570" width="1" height="20" fill="#c0c0c0"/>
<rect x="1155" y="570" width="1" height="29" fill="#c0c0c0"/>
<rect x="1163" y="570" width="1" height="35" fill="#c0c0c0"/>
<rect x="1171" y="570" width="1" height="39" fill="#c0c0c0"/>
<rect x="1179" y="570" width="1" height="45" fill="#c0c0c0"/>
<rect x="1187" y="570" width="1" height="48" fill="#c0c0c0"/>
<rect x="1195" y="570" width="1" height="46" fill="#c0c0c0"/>
<rect x="1203" y="570" width="1" height="41" fill="#c0c0c0"/>
<rect x="1211" y="570" width="1" height="36" fill="#c0c0c0"/>
<rect x="1219" y="570" width="1" height="33" fill="#c0c0c0"/>
<rect x="1227" y="570" width="1" height="27" fill="#c0c0c0"/>
<rect x="1235" y="570" width="1" height="23" fill="#c0c0c0"/>
<rect x="1243" y="570" width="1" height="15" fill="#c0c0c0"/>
<rect x="1251" y="570" width="1" height="8" fill="#c0c0c0"/>
<rect x="1267" y="567" width="1" height="4" fill="#c0c0c0"/>
<rect x="1275" y="565" width="1" height="6" fill="#c0c0c0"/>
<rect x="1283" y="565" width="1" height="6" fill="#c0c0c0"/>
<rect x="1291" y="567" width="1" height="4" fill="#c0c0c0"/>
<rect x="1299" y="567" width="1" height="4" fill="#c0c0c0"/>
<rect x="1307" y="566" width="1" height="5" fill="#c0c0c0"/>
<rect x="1315" y="565" width="1" height="6" fill="#c0c0c0"/>
<rect x="1323" y="564" width="1" height="7" fill="#c0c0c0"/>
<rect x="1331" y="562" width="1" height="9" fill="#c0c0c0"/>
<rect x="1339" y="562" width="1" height="9" fill="#c0c0c0"/>
<rect x="1347" y="559" width="1" height="12" fill="#c0c0c0"/>
<rect x="1355" y="556" width="1" height="15" fill="#c0c0c0"/>
<rect x="1363" y="554" width="1" height="17" fill="#c0c0c0"/>
<rect x="1371" y="553" width="1" height="18" fill="#c0c0c0"/>
<rect x="1379" y="553" width="1" height="18" fill="#c0c0c0"/>
<rect x="1387" y="553" width="1" height="18" fill="#c0c0c0"/>
<rect x="1395" y="559" width="1" height="12" fill="#c0c0c0"/>
<rect x="1403" y="568" width="1" height="3" fill="#c0c0c0"/>
<rect x="1411" y="570" width="1" height="5" fill="#c0c0c0"/>
<rect x="1419" y="570" width="1" height="11" fill="#c0c0c0"/>
<rect x="1427" y="570" width="1" height="19" fill="#c0c0c0"/>
<rect x="1435" y="570" width="1" height="25" fill="#c0c0c0"/>
<rect x="1443" y="570" width="1" height="26" fill="#c0c0c0"/>
<rect x="1451" y="570" width="1" height="31" fill="#c0c0c0"/>
<rect x="1459" y="570" width="1" height="37" fill="#c0c0c0"/>
<rect x="1467" y="570" width="1" height="41" fill="#c0c0c0"/>
<rect x="1475" y="570" width="1" height="43" fill="#c0c0c0"/>
<rect x="1483" y="570" width="1" height="43" fill="#c0c0c0"/>
<rect x="1491" y="570" width="1" height="42" fill="#c0c0c0"/>
<rect x="1499" y="570" width="1" height="42" fill="#c0c0c0"/>
<rect x="1507" y="570" width="1" height="43" fill="#c0c0c0"/>
<rect x="1515" y="570" width="1" height="43" fill="#c0c0c0"/>
<rect x="1523" y="570" width="1" height="44" fill="#c0c0c0"/>
<rect x="1531" y="570" width="1" height="46" fill="#c0c0c0"/>
<rect x="1539" y="570" width="1" height="54" fill="#c0c0c0"/>
<rect x="1547" y="570" width="1" height="68" fill="#c0c0c0"/>
<rect x="1555" y="570" width="1" height="82" fill="#c0c0c0"/>
<rect x="1563" y="570" width="1" height="89" fill="#c0c0c0"/>
<rect x="1571" y="570" width="1" height="94" fill="#c0c0c0"/>
<rect x="1579" y="570" width="1" height="97" fill="#c0c0c0"/>
<rect x="1587" y="570" width="1" height="100" fill="#c0c0c0"/>
<rect x="1595" y="570" width="1" height="97" fill="#c0c0c0"/>
<rect x="1603" y="570" width="1" height="94" fill="#c0c0c0"/>
<rect x="1611" y="570" width="1" height="93" fill="#c0c0c0"/>
<rect x="1619" y="570" width="1" height="91" fill="#c0c0c0"/>
<rect x="1627" y="570" width="1" height="85" fill="#c0c0c0"/>
<rect x="1635" y="570" width="1" height="77" fill="#c0c0c0"/>
<rect x="1643" y="570" width="1" height="59" fill="#c0c0c0"/>
<rect x="1651" y="570" width="1" height="45" fill="#c0c0c0"/>
<rect x="1659" y="570" width="1" height="34" fill="#c0c0c0"/>
<rect x="1667" y="570" width="1" height="24" fill="#c0c0c0"/>
<polyline points="3.5,538.5 17.3,539.7 34.7,540.6 43.3,541.5 60.7,541.5 69.3,542.3 86.7,544.9 97.0,547.5 107.5,550.1 114.4,551.5 131.7,551.9 147.3,551.5 156.0,550.6 164.6,549.6 171.6,548.4 190.6,548.1 204.5,549.3 213.2,550.6 225.3,551.9 235.7,553.2 251.3,553.1 263.4,551.9 277.3,551.0 286.0,550.3 294.6,548.9 303.9,547.5 310.8,545.8 316.0,545.5 324.7,545.1 342.0,544.4 362.8,544.4 371.5,543.2 387.0,542.3 394.0,540.3 407.9,538.5 428.6,538.5 442.5,540.3 454.6,543.2 463.3,546.7 472.0,551.3 480.6,555.8 489.3,559.7 498.0,563.5 506.6,567.5 515.3,570.9 524.0,572.1 532.6,573.5 546.5,573.5 556.9,571.4 568.0,568.0 574.2,565.2 581.2,562.3 586.9,559.3 592.1,557.6 597.3,555.8 604.3,554.8 611.2,551.3 618.1,549.3 628.5,547.2 635.5,544.9 649.3,544.1 659.7,543.4 684.0,543.4 708.2,544.1 713.4,545.5 723.8,546.7 736.0,547.9 746.4,549.3 770.6,549.3 788.0,548.4 805.3,548.4 810.5,549.3 822.6,550.6 827.8,552.4 836.5,554.8 845.2,557.6 852.1,560.5 860.8,562.3 866.0,564.0 874.6,565.7 880.4,566.9 887.3,567.5 897.7,568.0 913.3,567.5 930.7,566.2 939.3,564.5 948.0,562.3 956.7,559.7 963.6,558.3 970.5,555.3 977.5,553.1 987.9,551.0 994.8,547.5 1003.4,544.4 1013.8,543.2 1026.0,542.3 1052.0,542.3 1069.3,541.5 1083.2,539.7 1091.8,538.5 1098.8,539.7 1109.2,540.3 1116.1,542.3 1121.3,544.9 1130.0,550.1 1138.6,553.6 1143.8,557.9 1150.8,564.0 1157.7,570.1 1164.6,576.1 1169.7,581.9 1179.4,590.0 1187.5,595.2 1195.6,601.0 1203.7,603.7 1216.6,608.1 1232.8,607.8 1240.9,605.4 1250.6,600.5 1258.7,595.7 1266.8,589.2 1276.5,583.5 1286.2,578.7 1297.5,573.8 1307.2,569.3 1316.9,566.5 1329.8,564.9 1341.2,564.1 1347.6,563.3 1362.2,560.9 1378.4,558.5 1388.1,556.4 1409.1,557.3 1418.9,560.1 1428.5,564.9 1437.5,570.0 1445.0,574.2 1451.0,579.0 1457.0,583.5 1463.0,587.3 1469.0,591.3 1475.1,594.8 1481.1,599.3 1485.6,601.6 1491.6,603.1 1499.1,606.8 1505.1,607.6 1511.1,608.3 1517.1,609.4 1523.1,611.3 1529.1,612.4 1539.6,612.8 1545.6,615.8 1553.2,619.6 1559.2,623.3 1565.2,627.1 1571.2,631.6 1577.2,636.1 1583.2,640.6 1589.2,645.1 1595.2,649.6 1601.2,654.4 1607.2,657.1 1613.2,660.1 1619.2,662.4 1625.3,662.4 1631.3,661.6 1637.3,660.1 1643.3,657.1 1649.3,652.9 1655.3,648.1 1661.3,643.3 1667.0,637.3" fill="none" stroke="#ff0000" stroke-width="1" stroke-dasharray="3,2" shape-rendering="crispEdges"/>
</g>
<text x="7.5" y="535" font-family='"Liberation Sans", sans-serif' font-size="9.85" fill="#000" stroke="#000" stroke-width="0.25" textLength="135.1" lengthAdjust="spacingAndGlyphs" xml:space="preserve">MACD(12,26,9) -0.4069 -1.1522</text>
<g clip-path="url(#cr)">
<line x1="3" y1="721.5" x2="1688" y2="721.5" stroke="#c0c0c0" stroke-dasharray="3,3"/>
<line x1="3" y1="777.5" x2="1688" y2="777.5" stroke="#c0c0c0" stroke-dasharray="3,3"/>
<polyline points="3.5,724.4 11.5,723.2 19.5,721.8 27.5,718.2 35.5,732.2 43.5,733.6 51.5,729.3 59.5,735.3 67.5,736.5 75.5,740.5 83.5,753.5 91.5,749.4 99.5,752.3 107.5,729.3 115.5,724.4 123.5,730.1 131.5,724.4 139.5,727.2 147.5,727.2 155.5,742.3 163.5,743.5 171.5,742.3 179.5,746.9 187.5,741.7 195.5,737.9 203.5,733.2 211.5,736.5 219.5,736.5 227.5,742.3 235.5,734.5 243.5,733.2 251.5,726.3 259.5,729.3 267.5,729.3 275.5,727.2 283.5,723.2 291.5,720.6 299.5,725.5 307.5,723.2 315.5,734.5 323.5,735.7 331.5,734.5 339.5,732.2 347.5,721.8 355.5,727.2 363.5,719.2 371.5,717.5 379.5,714.0 387.5,722.3 395.5,726.3 403.5,721.5 411.5,742.3 419.5,748.3 427.5,743.1 435.5,741.4 443.5,740.5 451.5,763.6 459.5,754.7 467.5,759.1 475.5,764.4 483.5,759.6 491.5,762.5 499.5,744.5 507.5,748.3 515.5,750.4 523.5,745.7 531.5,742.3 539.5,744.0 547.5,747.5 555.5,733.1 563.5,729.3 571.5,731.3 579.5,729.3 587.5,737.1 595.5,738.3 603.5,736.2 611.5,736.2 619.5,736.2 627.5,731.3 635.5,731.3 643.5,729.3 651.5,727.2 659.5,735.3 667.5,736.2 675.5,736.2 683.5,732.2 691.5,745.2 699.5,740.2 707.5,738.3 715.5,738.3 723.5,735.3 731.5,734.5 739.5,743.5 747.5,729.3 755.5,731.3 763.5,731.3 771.5,729.3 779.5,732.2 787.5,734.5 795.5,733.2 803.5,754.4 811.5,757.3 819.5,757.3 827.5,763.6 835.5,754.4 843.5,755.6 851.5,746.2 859.5,745.2 867.5,744.5 875.5,746.6 883.5,751.4 891.5,738.3 899.5,748.3 907.5,744.5 915.5,745.7 923.5,741.0 931.5,735.8 939.5,717.5 947.5,731.3 955.5,730.5 963.5,729.3 971.5,727.2 979.5,727.2 987.5,737.1 995.5,733.1 1003.5,731.3 1011.5,734.5 1019.5,733.2 1027.5,735.3 1035.5,733.1 1043.5,729.3 1051.5,722.3 1059.5,718.0 1067.5,721.5 1075.5,716.8 1083.5,714.0 1091.5,739.7 1099.5,766.5 1107.5,763.6 1115.5,765.3 1123.5,766.5 1131.5,757.0 1139.5,751.4 1147.5,774.3 1155.5,770.5 1163.5,768.3 1171.5,768.8 1179.5,773.5 1187.5,771.2 1195.5,759.1 1203.5,753.5 1211.5,752.1 1219.5,754.4 1227.5,750.4 1235.5,746.2 1243.5,739.3 1251.5,738.3 1259.5,737.4 1267.5,737.4 1275.5,741.0 1283.5,748.0 1291.5,752.1 1299.5,745.7 1307.5,745.7 1315.5,744.5 1323.5,743.5 1331.5,740.5 1339.5,744.5 1347.5,738.3 1355.5,731.3 1363.5,736.2 1371.5,738.3 1379.5,737.4 1387.5,738.8 1395.5,760.5 1403.5,768.8 1411.5,767.4 1419.5,770.9 1427.5,775.2 1435.5,776.3 1443.5,761.3 1451.5,771.1 1459.5,775.3 1467.5,772.3 1475.5,771.4 1483.5,768.4 1491.5,765.4 1499.5,769.3 1507.5,770.3 1515.5,771.4 1523.5,775.3 1531.5,776.8 1539.5,788.3 1547.5,795.1 1555.5,798.1 1563.5,789.4 1571.5,790.3 1579.5,782.3 1587.5,785.3 1595.5,775.3 1603.5,772.6 1611.5,776.3 1619.5,776.3 1627.5,765.1 1635.5,759.8 1643.5,740.3 1651.5,741.3 1659.5,740.3 1667.5,741.3" fill="none" stroke="#1e90ff" stroke-width="1" shape-rendering="crispEdges"/>
</g>
<text x="7.5" y="691" font-family='"Liberation Sans", sans-serif' font-size="9.85" fill="#000" stroke="#000" stroke-width="0.25" textLength="69.5" lengthAdjust="spacingAndGlyphs" xml:space="preserve">RSI(14) 56.0748</text>
<rect x="2" y="3" width="1687" height="1" fill="#000"/>
<rect x="2" y="520" width="1687" height="1" fill="#000"/>
<rect x="2" y="3" width="1" height="518" fill="#000"/>
<rect x="1688" y="3" width="1" height="518" fill="#000"/>
<rect x="2" y="522" width="1687" height="1" fill="#000"/>
<rect x="2" y="676" width="1687" height="1" fill="#000"/>
<rect x="2" y="522" width="1" height="155" fill="#000"/>
<rect x="1688" y="522" width="1" height="155" fill="#000"/>
<rect x="2" y="678" width="1687" height="1" fill="#000"/>
<rect x="2" y="819" width="1687" height="1" fill="#000"/>
<rect x="2" y="678" width="1" height="142" fill="#000"/>
<rect x="1688" y="678" width="1" height="142" fill="#000"/>
<rect x="1689" y="22" width="2" height="1" fill="#000"/>
<text x="1694" y="25" font-family='"Liberation Sans", sans-serif' font-size="9.7" fill="#000" stroke="#000" stroke-width="0.25" textLength="27.2" lengthAdjust="spacingAndGlyphs" xml:space="preserve">77.110</text>
<rect x="1689" y="55" width="2" height="1" fill="#000"/>
<text x="1694" y="58" font-family='"Liberation Sans", sans-serif' font-size="9.7" fill="#000" stroke="#000" stroke-width="0.25" textLength="27.9" lengthAdjust="spacingAndGlyphs" xml:space="preserve">76.290</text>
<rect x="1689" y="88" width="2" height="1" fill="#000"/>
<text x="1694" y="91" font-family='"Liberation Sans", sans-serif' font-size="9.7" fill="#000" stroke="#000" stroke-width="0.25" textLength="27.9" lengthAdjust="spacingAndGlyphs" xml:space="preserve">75.470</text>
<rect x="1689" y="121" width="2" height="1" fill="#000"/>
<text x="1694" y="124" font-family='"Liberation Sans", sans-serif' font-size="9.7" fill="#000" stroke="#000" stroke-width="0.25" textLength="27.9" lengthAdjust="spacingAndGlyphs" xml:space="preserve">74.650</text>
<rect x="1689" y="154" width="2" height="1" fill="#000"/>
<text x="1694" y="157" font-family='"Liberation Sans", sans-serif' font-size="9.7" fill="#000" stroke="#000" stroke-width="0.25" textLength="27.9" lengthAdjust="spacingAndGlyphs" xml:space="preserve">73.830</text>
<rect x="1689" y="187" width="2" height="1" fill="#000"/>
<text x="1694" y="190" font-family='"Liberation Sans", sans-serif' font-size="9.7" fill="#000" stroke="#000" stroke-width="0.25" textLength="27.9" lengthAdjust="spacingAndGlyphs" xml:space="preserve">72.990</text>
<rect x="1689" y="220" width="2" height="1" fill="#000"/>
<text x="1694" y="223" font-family='"Liberation Sans", sans-serif' font-size="9.7" fill="#000" stroke="#000" stroke-width="0.25" textLength="27.9" lengthAdjust="spacingAndGlyphs" xml:space="preserve">72.170</text>
<rect x="1689" y="253" width="2" height="1" fill="#000"/>
<text x="1694" y="256" font-family='"Liberation Sans", sans-serif' font-size="9.7" fill="#000" stroke="#000" stroke-width="0.25" textLength="27.9" lengthAdjust="spacingAndGlyphs" xml:space="preserve">71.350</text>
<rect x="1689" y="286" width="2" height="1" fill="#000"/>
<text x="1694" y="289" font-family='"Liberation Sans", sans-serif' font-size="9.7" fill="#000" stroke="#000" stroke-width="0.25" textLength="27.9" lengthAdjust="spacingAndGlyphs" xml:space="preserve">70.530</text>
<rect x="1689" y="319" width="2" height="1" fill="#000"/>
<text x="1694" y="322" font-family='"Liberation Sans", sans-serif' font-size="9.7" fill="#000" stroke="#000" stroke-width="0.25" textLength="27.9" lengthAdjust="spacingAndGlyphs" xml:space="preserve">69.710</text>
<rect x="1689" y="352" width="2" height="1" fill="#000"/>
<text x="1694" y="355" font-family='"Liberation Sans", sans-serif' font-size="9.7" fill="#000" stroke="#000" stroke-width="0.25" textLength="27.9" lengthAdjust="spacingAndGlyphs" xml:space="preserve">68.890</text>
<rect x="1689" y="385" width="2" height="1" fill="#000"/>
<text x="1694" y="388" font-family='"Liberation Sans", sans-serif' font-size="9.7" fill="#000" stroke="#000" stroke-width="0.25" textLength="27.9" lengthAdjust="spacingAndGlyphs" xml:space="preserve">68.070</text>
<rect x="1689" y="418" width="2" height="1" fill="#000"/>
<text x="1694" y="421" font-family='"Liberation Sans", sans-serif' font-size="9.7" fill="#000" stroke="#000" stroke-width="0.25" textLength="27.9" lengthAdjust="spacingAndGlyphs" xml:space="preserve">67.230</text>
<rect x="1689" y="451" width="2" height="1" fill="#000"/>
<text x="1694" y="454" font-family='"Liberation Sans", sans-serif' font-size="9.7" fill="#000" stroke="#000" stroke-width="0.25" textLength="27.9" lengthAdjust="spacingAndGlyphs" xml:space="preserve">66.410</text>
<rect x="1689" y="484" width="2" height="1" fill="#000"/>
<text x="1694" y="487" font-family='"Liberation Sans", sans-serif' font-size="9.7" fill="#000" stroke="#000" stroke-width="0.25" textLength="27.9" lengthAdjust="spacingAndGlyphs" xml:space="preserve">65.590</text>
<rect x="1689" y="517" width="2" height="1" fill="#000"/>
<text x="1694" y="520" font-family='"Liberation Sans", sans-serif' font-size="9.7" fill="#000" stroke="#000" stroke-width="0.25" textLength="27.9" lengthAdjust="spacingAndGlyphs" xml:space="preserve">64.770</text>
<rect x="1690" y="121" width="36" height="11" fill="#ff0000"/>
<text x="1694" y="129" font-family='"Liberation Sans", sans-serif' font-size="9.7" fill="#fff" stroke="#fff" stroke-width="0.25" textLength="27.9" lengthAdjust="spacingAndGlyphs" xml:space="preserve">74.500</text>
<rect x="1690" y="221" width="36" height="11" fill="#ff0000"/>
<text x="1694" y="229" font-family='"Liberation Sans", sans-serif' font-size="9.7" fill="#fff" stroke="#fff" stroke-width="0.25" textLength="27.9" lengthAdjust="spacingAndGlyphs" xml:space="preserve">72.000</text>
<rect x="1690" y="293" width="36" height="11" fill="#000000"/>
<text x="1694" y="301" font-family='"Liberation Sans", sans-serif' font-size="9.7" fill="#fff" stroke="#fff" stroke-width="0.25" textLength="27.9" lengthAdjust="spacingAndGlyphs" xml:space="preserve">70.230</text>
<rect x="1690" y="301" width="36" height="11" fill="#1ec81e"/>
<text x="1694" y="309" font-family='"Liberation Sans", sans-serif' font-size="9.7" fill="#fff" stroke="#fff" stroke-width="0.25" textLength="27.9" lengthAdjust="spacingAndGlyphs" xml:space="preserve">70.000</text>
<rect x="1690" y="402" width="36" height="11" fill="#2d5fdc"/>
<text x="1694" y="410" font-family='"Liberation Sans", sans-serif' font-size="9.7" fill="#fff" stroke="#fff" stroke-width="0.25" textLength="27.9" lengthAdjust="spacingAndGlyphs" xml:space="preserve">67.500</text>
<rect x="1689" y="524" width="2" height="1" fill="#000"/>
<rect x="1689" y="570" width="2" height="1" fill="#000"/>
<rect x="1689" y="675" width="2" height="1" fill="#000"/>
<text x="1692" y="532" font-family='"Liberation Sans", sans-serif' font-size="9.7" fill="#000" stroke="#000" stroke-width="0.25" textLength="27.9" lengthAdjust="spacingAndGlyphs" xml:space="preserve">0.8198</text>
<text x="1694.5" y="574" font-family='"Liberation Sans", sans-serif' font-size="9.7" fill="#000" stroke="#000" stroke-width="0.25" textLength="17.7" lengthAdjust="spacingAndGlyphs" xml:space="preserve">0.00</text>
<text x="1691" y="673" font-family='"Liberation Sans", sans-serif' font-size="9.7" fill="#000" stroke="#000" stroke-width="0.25" textLength="30.9" lengthAdjust="spacingAndGlyphs" xml:space="preserve">-1.8495</text>
<rect x="1689" y="680" width="2" height="1" fill="#000"/>
<text x="1692" y="688" font-family='"Liberation Sans", sans-serif' font-size="9.7" fill="#000" stroke="#000" stroke-width="0.25" textLength="15.2" lengthAdjust="spacingAndGlyphs" xml:space="preserve">100</text>
<text x="1692" y="725" font-family='"Liberation Sans", sans-serif' font-size="9.7" fill="#000" stroke="#000" stroke-width="0.25" textLength="10.1" lengthAdjust="spacingAndGlyphs" xml:space="preserve">70</text>
<text x="1692" y="781" font-family='"Liberation Sans", sans-serif' font-size="9.7" fill="#000" stroke="#000" stroke-width="0.25" textLength="10.1" lengthAdjust="spacingAndGlyphs" xml:space="preserve">30</text>
<rect x="1689" y="818" width="2" height="1" fill="#000"/>
<text x="1692" y="816" font-family='"Liberation Sans", sans-serif' font-size="9.7" fill="#000" stroke="#000" stroke-width="0.25" textLength="5.1" lengthAdjust="spacingAndGlyphs" xml:space="preserve">0</text>
<rect x="3" y="820" width="1" height="3" fill="#000"/>
<text x="2" y="831" font-family='"Liberation Sans", sans-serif' font-size="9.7" fill="#000" stroke="#000" stroke-width="0.25" textLength="43.2" lengthAdjust="spacingAndGlyphs" xml:space="preserve">4 Jun 2021</text>
<rect x="67" y="820" width="1" height="3" fill="#000"/>
<text x="66" y="831" font-family='"Liberation Sans", sans-serif' font-size="9.7" fill="#000" stroke="#000" stroke-width="0.25" textLength="45.6" lengthAdjust="spacingAndGlyphs" xml:space="preserve">7 Jun 16:00</text>
<rect x="131" y="820" width="1" height="3" fill="#000"/>
<text x="130" y="831" font-family='"Liberation Sans", sans-serif' font-size="9.7" fill="#000" stroke="#000" stroke-width="0.25" textLength="45.6" lengthAdjust="spacingAndGlyphs" xml:space="preserve">9 Jun 00:00</text>
<rect x="195" y="820" width="1" height="3" fill="#000"/>
<text x="194" y="831" font-family='"Liberation Sans", sans-serif' font-size="9.7" fill="#000" stroke="#000" stroke-width="0.25" textLength="50.5" lengthAdjust="spacingAndGlyphs" xml:space="preserve">10 Jun 08:00</text>
<rect x="259" y="820" width="1" height="3" fill="#000"/>
<text x="258" y="831" font-family='"Liberation Sans", sans-serif' font-size="9.7" fill="#000" stroke="#000" stroke-width="0.25" textLength="49.8" lengthAdjust="spacingAndGlyphs" xml:space="preserve">11 Jun 16:00</text>
<rect x="323" y="820" width="1" height="3" fill="#000"/>
<text x="322" y="831" font-family='"Liberation Sans", sans-serif' font-size="9.7" fill="#000" stroke="#000" stroke-width="0.25" textLength="50.5" lengthAdjust="spacingAndGlyphs" xml:space="preserve">14 Jun 20:00</text>
<rect x="387" y="820" width="1" height="3" fill="#000"/>
<text x="386" y="831" font-family='"Liberation Sans", sans-serif' font-size="9.7" fill="#000" stroke="#000" stroke-width="0.25" textLength="50.5" lengthAdjust="spacingAndGlyphs" xml:space="preserve">16 Jun 04:00</text>
<rect x="451" y="820" width="1" height="3" fill="#000"/>
<text x="450" y="831" font-family='"Liberation Sans", sans-serif' font-size="9.7" fill="#000" stroke="#000" stroke-width="0.25" textLength="50.5" lengthAdjust="spacingAndGlyphs" xml:space="preserve">17 Jun 12:00</text>
<rect x="515" y="820" width="1" height="3" fill="#000"/>
<text x="514" y="831" font-family='"Liberation Sans", sans-serif' font-size="9.7" fill="#000" stroke="#000" stroke-width="0.25" textLength="50.5" lengthAdjust="spacingAndGlyphs" xml:space="preserve">18 Jun 20:00</text>
<rect x="579" y="820" width="1" height="3" fill="#000"/>
<text x="578" y="831" font-family='"Liberation Sans", sans-serif' font-size="9.7" fill="#000" stroke="#000" stroke-width="0.25" textLength="50.5" lengthAdjust="spacingAndGlyphs" xml:space="preserve">22 Jun 00:00</text>
<rect x="643" y="820" width="1" height="3" fill="#000"/>
<text x="642" y="831" font-family='"Liberation Sans", sans-serif' font-size="9.7" fill="#000" stroke="#000" stroke-width="0.25" textLength="50.5" lengthAdjust="spacingAndGlyphs" xml:space="preserve">23 Jun 08:00</text>
<rect x="707" y="820" width="1" height="3" fill="#000"/>
<text x="706" y="831" font-family='"Liberation Sans", sans-serif' font-size="9.7" fill="#000" stroke="#000" stroke-width="0.25" textLength="50.5" lengthAdjust="spacingAndGlyphs" xml:space="preserve">24 Jun 16:00</text>
<rect x="771" y="820" width="1" height="3" fill="#000"/>
<text x="770" y="831" font-family='"Liberation Sans", sans-serif' font-size="9.7" fill="#000" stroke="#000" stroke-width="0.25" textLength="50.5" lengthAdjust="spacingAndGlyphs" xml:space="preserve">27 Jun 23:00</text>
<rect x="835" y="820" width="1" height="3" fill="#000"/>
<text x="834" y="831" font-family='"Liberation Sans", sans-serif' font-size="9.7" fill="#000" stroke="#000" stroke-width="0.25" textLength="50.5" lengthAdjust="spacingAndGlyphs" xml:space="preserve">29 Jun 04:00</text>
<rect x="899" y="820" width="1" height="3" fill="#000"/>
<text x="898" y="831" font-family='"Liberation Sans", sans-serif' font-size="9.7" fill="#000" stroke="#000" stroke-width="0.25" textLength="50.5" lengthAdjust="spacingAndGlyphs" xml:space="preserve">30 Jun 12:00</text>
<rect x="963" y="820" width="1" height="3" fill="#000"/>
<text x="962" y="831" font-family='"Liberation Sans", sans-serif' font-size="9.7" fill="#000" stroke="#000" stroke-width="0.25" textLength="43.4" lengthAdjust="spacingAndGlyphs" xml:space="preserve">1 Jul 20:00</text>
<rect x="1027" y="820" width="1" height="3" fill="#000"/>
<text x="1026" y="831" font-family='"Liberation Sans", sans-serif' font-size="9.7" fill="#000" stroke="#000" stroke-width="0.25" textLength="43.4" lengthAdjust="spacingAndGlyphs" xml:space="preserve">5 Jul 00:00</text>
<rect x="1091" y="820" width="1" height="3" fill="#000"/>
<text x="1090" y="831" font-family='"Liberation Sans", sans-serif' font-size="9.7" fill="#000" stroke="#000" stroke-width="0.25" textLength="43.4" lengthAdjust="spacingAndGlyphs" xml:space="preserve">6 Jul 08:00</text>
<rect x="1155" y="820" width="1" height="3" fill="#000"/>
<text x="1154" y="831" font-family='"Liberation Sans", sans-serif' font-size="9.7" fill="#000" stroke="#000" stroke-width="0.25" textLength="43.4" lengthAdjust="spacingAndGlyphs" xml:space="preserve">7 Jul 16:00</text>
<rect x="1219" y="820" width="1" height="3" fill="#000"/>
<text x="1218" y="831" font-family='"Liberation Sans", sans-serif' font-size="9.7" fill="#000" stroke="#000" stroke-width="0.25" textLength="43.4" lengthAdjust="spacingAndGlyphs" xml:space="preserve">9 Jul 00:00</text>
<rect x="1283" y="820" width="1" height="3" fill="#000"/>
<text x="1282" y="831" font-family='"Liberation Sans", sans-serif' font-size="9.7" fill="#000" stroke="#000" stroke-width="0.25" textLength="48.4" lengthAdjust="spacingAndGlyphs" xml:space="preserve">12 Jul 04:00</text>
<rect x="1347" y="820" width="1" height="3" fill="#000"/>
<text x="1346" y="831" font-family='"Liberation Sans", sans-serif' font-size="9.7" fill="#000" stroke="#000" stroke-width="0.25" textLength="48.4" lengthAdjust="spacingAndGlyphs" xml:space="preserve">13 Jul 12:00</text>
<rect x="1411" y="820" width="1" height="3" fill="#000"/>
<text x="1410" y="831" font-family='"Liberation Sans", sans-serif' font-size="9.7" fill="#000" stroke="#000" stroke-width="0.25" textLength="48.4" lengthAdjust="spacingAndGlyphs" xml:space="preserve">14 Jul 20:00</text>
<rect x="1475" y="820" width="1" height="3" fill="#000"/>
<text x="1474" y="831" font-family='"Liberation Sans", sans-serif' font-size="9.7" fill="#000" stroke="#000" stroke-width="0.25" textLength="48.4" lengthAdjust="spacingAndGlyphs" xml:space="preserve">16 Jul 04:00</text>
<rect x="1539" y="820" width="1" height="3" fill="#000"/>
<text x="1538" y="831" font-family='"Liberation Sans", sans-serif' font-size="9.7" fill="#000" stroke="#000" stroke-width="0.25" textLength="48.4" lengthAdjust="spacingAndGlyphs" xml:space="preserve">19 Jul 08:00</text>
<rect x="1603" y="820" width="1" height="3" fill="#000"/>
<text x="1602" y="831" font-family='"Liberation Sans", sans-serif' font-size="9.7" fill="#000" stroke="#000" stroke-width="0.25" textLength="48.4" lengthAdjust="spacingAndGlyphs" xml:space="preserve">20 Jul 16:00</text>
<rect x="1667" y="820" width="1" height="3" fill="#000"/>
<text x="1666" y="831" font-family='"Liberation Sans", sans-serif' font-size="9.7" fill="#000" stroke="#000" stroke-width="0.25" textLength="48.4" lengthAdjust="spacingAndGlyphs" xml:space="preserve">21 Jul 22:00</text>
</svg></body></html>
